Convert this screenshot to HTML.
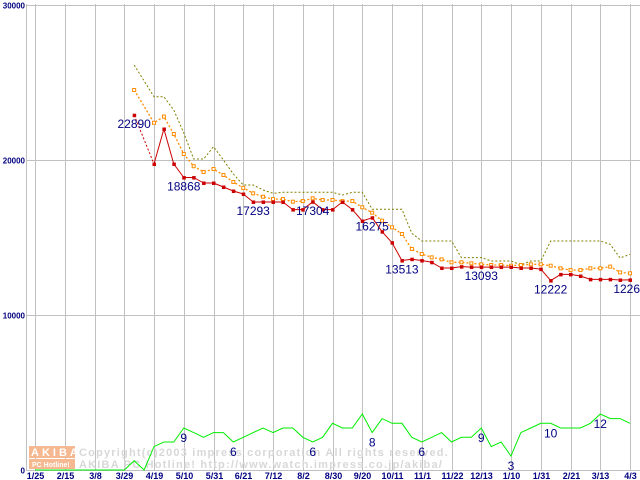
<!DOCTYPE html>
<html><head><meta charset="utf-8">
<style>
html,body{margin:0;padding:0;background:#fff;}
svg{display:block;}
text{font-family:"Liberation Sans",sans-serif;}
</style></head>
<body>
<svg id="chart" width="640" height="480" viewBox="0 0 640 480" xmlns="http://www.w3.org/2000/svg">
<g id="grid"></g>
<g id="watermark">
  <rect x="29" y="446" width="46" height="12" fill="#f6b890"/>
  <text x="31" y="456" font-size="11" font-weight="bold" fill="#fff" letter-spacing="3">AKIBA</text>
  <rect x="29" y="459" width="46" height="10" fill="#f6b890"/>
  <text x="32" y="467" font-size="7" font-weight="bold" fill="#fff">PC Hotline!</text>
  <text x="79" y="456" font-size="11" font-weight="bold" fill="#d8d8d8" letter-spacing="1.2" font-family="Liberation Mono, monospace">Copyright(c)2003 impress corporation All rights reserved.</text>
  <text x="79" y="468" font-size="11" font-weight="bold" fill="#d8d8d8" letter-spacing="1.2" font-family="Liberation Mono, monospace">AKIBA PC Hotline!  http://www.watch.impress.co.jp/akiba/</text>
</g>
<g id="series"></g>
<g id="labels"></g>
</svg>
<script>
const xLabels=["1/25","2/15","3/8","3/29","4/19","5/10","5/31","6/21","7/12","8/2","8/30","9/20","10/11","11/1","11/22","12/13","1/10","1/31","2/21","3/13","4/3"];
const yTicks=[0,10000,20000,30000];
const counts=[0,0,0,0,0,0,0,0,0,0,2,0,5,6,6,9,8,7,8,8,6,7,8,9,8,9,9,7,6,7,10,9,9,12,8,11,10,10,7,6,7,8,6,7,7,9,5,6,3,8,9,10,10,9,9,9,10,12,11,11,10];
const minPrice=[null,null,null,null,null,null,null,null,null,null,22890,null,19742,22000,19742,18868,18868,18516,18516,18258,18000,17806,17293,17293,17293,17290,16800,16800,17304,16800,16800,17290,16800,16065,16275,15376,14667,13513,13600,13513,13400,13030,13030,13120,13093,13093,13093,13093,13093,13030,13030,12960,12222,12620,12620,12516,12300,12300,12300,12260,12264];
const avgPrice=[null,null,null,null,null,null,null,null,null,null,24516,null,22400,22800,21677,20387,19600,19226,19420,19032,18580,18200,17850,17630,17480,17480,17310,17350,17530,17420,17420,17350,17350,16950,16600,16085,15656,15226,14260,13935,13720,13590,13400,13400,13333,13270,13226,13226,13180,13226,13270,13270,13180,13010,12900,12900,13010,13010,13120,12750,12690];
const maxPrice=[null,null,null,null,null,null,null,null,null,null,26130,null,24080,24080,23226,21740,20065,20065,20860,20000,19100,18390,18390,18065,17850,17914,17914,17914,17914,17914,17914,17740,17914,17914,16820,16820,16820,16820,15270,14774,14774,14774,14774,13700,13700,13700,13484,13484,13484,13226,13484,13484,14774,14774,14774,14774,14774,14774,14560,13677,13916];
const priceLabels=[[10,22890],[15,18868],[22,17293],[28,17304],[34,16275],[37,13513],[45,13093],[52,12222],[60,12264]];
const countLabels=[[15,9],[20,6],[28,6],[34,8],[39,6],[45,9],[48,3],[52,10],[57,12]];

const NS="http://www.w3.org/2000/svg";
const X0=35, STEP=9.917, Y0=470;
function xs(i){return X0+i*STEP;}
function yp(v){return Y0-v*0.0155;}
function yc(v){return Y0-v*4.67;}
function mk(tag,attrs,parent){const e=document.createElementNS(NS,tag);for(const k in attrs)e.setAttribute(k,attrs[k]);parent.appendChild(e);return e;}
const grid=document.getElementById('grid'),series=document.getElementById('series'),labels=document.getElementById('labels');

yTicks.forEach(t=>{
  const y=Math.round(yp(t))+0.5;
  if(t>0){const l=mk('line',{x1:26,x2:640,y1:y,y2:y,stroke:'#c0c0c0'},grid);
  
  }
  const tx=mk('text',{x:25,y:y+3,'font-size':8,'font-weight':'bold',fill:'#000080','text-anchor':'end'},labels);
  tx.textContent=String(t);
  
  
});
const ax=mk('line',{x1:26.5,x2:26.5,y1:4,y2:470,stroke:'#c0c0c0'},grid);


xLabels.forEach((s,k)=>{
  const x=Math.round(xs(k*3))+0.5;
  const l=mk('line',{x1:x,x2:x,y1:4,y2:470,stroke:'#c0c0c0'},grid);
  
  
  const tx=mk('text',{x:x,y:479,'font-size':9,'font-weight':'bold',fill:'#000080','text-anchor':'middle'},labels);
  tx.textContent=s;
  
  
});
const bl=mk('line',{x1:26,x2:640,y1:470.5,y2:470.5,stroke:'#c0c0c0'},grid);



function path(arr,fy){let d='';arr.forEach((v,i)=>{if(v==null)return;d+=(d?'L':'M')+xs(i).toFixed(1)+','+fy(v).toFixed(1);});return d;}
// solid segments only between consecutive points; gaps bridged dotted
function segs(arr,fy){let solid='',gap='';let prev=null;
  arr.forEach((v,i)=>{if(v==null)return;
    if(prev!=null){const s='M'+xs(prev).toFixed(1)+','+fy(arr[prev]).toFixed(1)+'L'+xs(i).toFixed(1)+','+fy(v).toFixed(1);
      if(i-prev===1)solid+=s;else gap+=s;}
    prev=i;});
  return [solid,gap];}
const g=mk('path',{d:path(counts,yc),fill:'none',stroke:'#00ee00','stroke-width':1},series);


const mx=mk('path',{d:path(maxPrice,yp),fill:'none',stroke:'#808000','stroke-width':1,'stroke-dasharray':'2,2'},series);


const av=mk('path',{d:path(avgPrice,yp),fill:'none',stroke:'#ff8c00','stroke-width':1.3,'stroke-dasharray':'2,2'},series);


const ms=segs(minPrice,yp);
const mn=mk('path',{d:ms[0],fill:'none',stroke:'#cc0000','stroke-width':1},series);


const mng=mk('path',{d:ms[1],fill:'none',stroke:'#cc0000','stroke-width':1,'stroke-dasharray':'2,2'},series);


avgPrice.forEach((v,i)=>{if(v==null)return;
  const r=mk('rect',{x:xs(i)-1.5,y:yp(v)-1.5,width:3,height:3,fill:'#fff',stroke:'#ff8c00','stroke-width':1},series);
  
  });
minPrice.forEach((v,i)=>{if(v==null)return;
  const r=mk('rect',{x:xs(i)-1.5,y:yp(v)-1.5,width:3.5,height:3.5,fill:'#cc0000'},series);
  
  });
priceLabels.forEach(([i,v])=>{
  const t=mk('text',{x:xs(i),y:yp(v)+13,'font-size':12,fill:'#000080','text-anchor':'middle'},labels);
  t.textContent=String(v);
  
  });
countLabels.forEach(([i,v])=>{
  const t=mk('text',{x:xs(i),y:yc(counts[i])+14,'font-size':12,fill:'#000080','text-anchor':'middle'},labels);
  t.textContent=String(v);
  
  });
</script>
</body></html>
